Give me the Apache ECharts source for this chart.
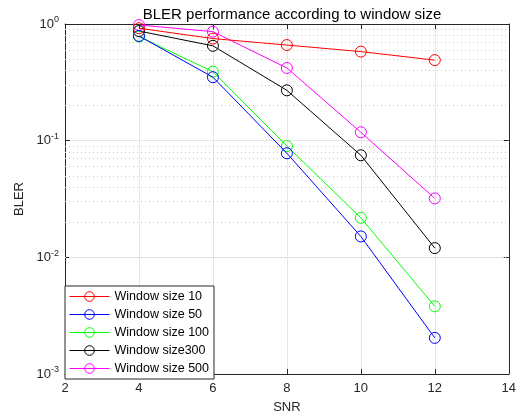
<!DOCTYPE html>
<html>
<head>
<meta charset="utf-8">
<script src="https://cdn.jsdelivr.net/npm/echarts@6/dist/echarts.min.js"></script>
<style>
  html, body { margin: 0; padding: 0; background: #fff; }
  #chart { width: 519px; height: 419px; }
</style>
</head>
<body>
<div id="chart"></div>
<script>
// SNR punten en BLER per venstergrootte
const snr = [4, 6, 8, 10, 12];
const seriesNames = ['Window size 10', 'Window size 50', 'Window size 100', 'Window size300', 'Window size 500'];
const colors = ['#ff0000', '#0000ff', '#00ff00', '#000000', '#ff00ff'];
const bler10 = [0.92, 0.75, 0.66, 0.58, 0.49];
const bler50 = [0.79, 0.35, 0.078, 0.0151, 0.00204];
const bler100 = [0.78, 0.39, 0.09, 0.0218, 0.0038];
const bler300 = [0.87, 0.65, 0.27, 0.075, 0.012];
const bler500 = [0.98, 0.86, 0.42, 0.118, 0.032];
const allBler = [bler10, bler50, bler100, bler300, bler500];

// kleine rasterlijnen voor de log-as (2..9 x 10^k)
const minorGrid = [];
for (let k = -3; k < 0; k++) {
  for (let m = 2; m <= 9; m++) minorGrid.push(m * Math.pow(10, k));
}

const chart = echarts.init(document.getElementById('chart'));
const axisColor = '#262626';
const font = 'Liberation Sans, Arial, sans-serif';

const series = allBler.map((vals, i) => ({
  name: seriesNames[i],
  type: 'line',
  data: snr.map((x, j) => [x, vals[j]]),
  symbol: 'circle',
  symbolSize: 11,
  lineStyle: { width: 1, color: colors[i] },
  itemStyle: { color: 'rgba(255,255,255,0)', borderColor: colors[i], borderWidth: 1 },
  z: 10 - i
}));

series.push({
  type: 'line',
  data: [],
  silent: true,
  markLine: {
    silent: true,
    symbol: 'none',
    label: { show: false },
    lineStyle: { type: [1, 3], color: '#c8c8c8', width: 1 },
    data: minorGrid.map(v => ({ yAxis: v }))
  }
});

const option = {
  animation: false,
  backgroundColor: '#fff',
  textStyle: { fontFamily: font },
  title: {
    text: 'BLER performance according to window size',
    left: 287,
    textAlign: 'center',
    top: 2,
    textStyle: { fontSize: 15, fontWeight: 'normal', color: '#000', fontFamily: font }
  },
  grid: { left: 65, right: 10, top: 24, bottom: 45 },
  legend: {
    orient: 'vertical',
    left: 65,
    top: 286,
    itemWidth: 40,
    itemHeight: 12,
    itemGap: 5,
    padding: [4, 5, 4, 4],
    backgroundColor: '#fff',
    borderColor: axisColor,
    borderWidth: 1,
    borderRadius: 0,
    data: seriesNames,
    lineStyle: { width: 1 },
    itemStyle: { borderWidth: 1 },
    textStyle: { fontSize: 12.5, color: '#000', fontFamily: font }
  },
  xAxis: [{
    type: 'value',
    min: 2, max: 14, interval: 2,
    name: 'SNR',
    nameLocation: 'middle',
    nameGap: 27,
    nameTextStyle: { fontSize: 13, color: axisColor },
    axisLine: { lineStyle: { color: axisColor } },
    axisTick: { inside: true, length: 5, lineStyle: { color: axisColor } },
    axisLabel: { fontSize: 13, color: axisColor, margin: 8 },
    splitLine: { show: true, lineStyle: { color: '#e6e6e6' } }
  }, {
    type: 'value',
    position: 'top',
    min: 2, max: 14, interval: 2,
    axisLine: { show: true, lineStyle: { color: axisColor } },
    axisTick: { inside: true, length: 5, lineStyle: { color: axisColor } },
    axisLabel: { show: false },
    splitLine: { show: false }
  }],
  yAxis: [{
    type: 'log',
    logBase: 10,
    min: 0.001, max: 1,
    name: 'BLER',
    nameLocation: 'middle',
    nameGap: 38,
    nameTextStyle: { fontSize: 13, color: axisColor },
    axisLine: { show: true, lineStyle: { color: axisColor } },
    axisTick: { inside: true, length: 5, lineStyle: { color: axisColor } },
    axisLabel: {
      fontSize: 13,
      color: axisColor,
      margin: 6,
      formatter: v => '10{sup|' + Math.round(Math.log10(v)) + '}',
      rich: { sup: { fontSize: 9, verticalAlign: 'top', padding: [0, 0, 8, 0], color: axisColor } }
    },
    splitLine: { show: true, lineStyle: { color: '#e6e6e6' } }
  }, {
    type: 'log',
    logBase: 10,
    position: 'right',
    min: 0.001, max: 1,
    axisLine: { show: true, lineStyle: { color: axisColor } },
    axisTick: { inside: true, length: 5, lineStyle: { color: axisColor } },
    axisLabel: { show: false },
    splitLine: { show: false }
  }],
  series: series
};

chart.setOption(option);
</script>
</body>
</html>
